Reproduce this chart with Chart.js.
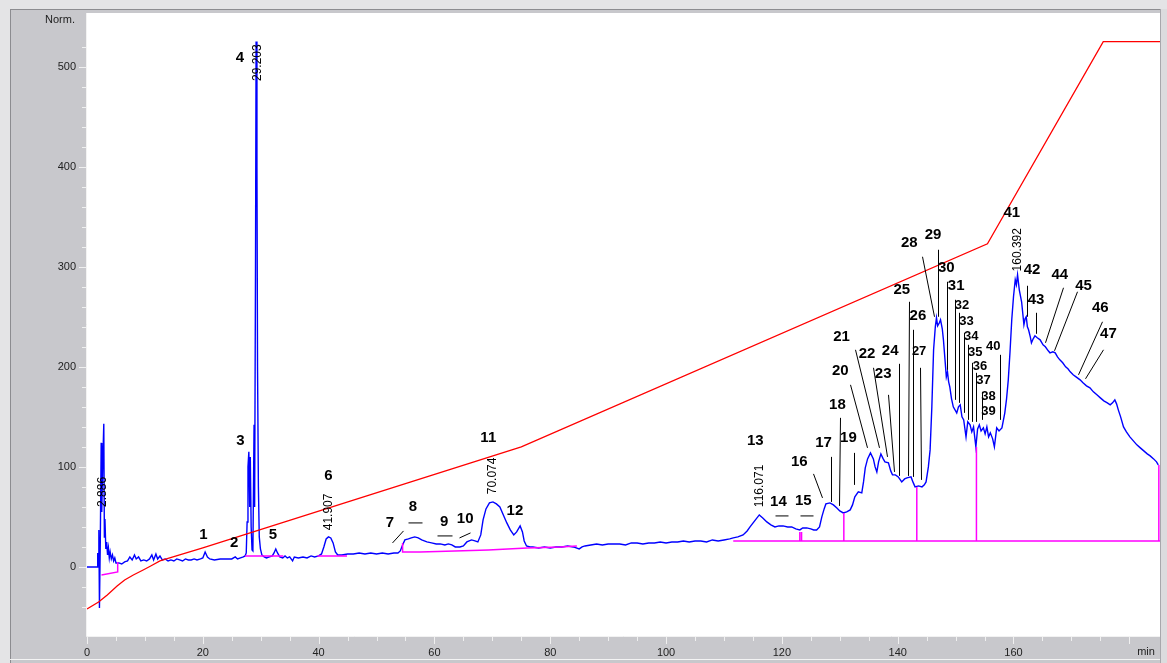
<!DOCTYPE html>
<html>
<head>
<meta charset="utf-8">
<script src="https://cdn.jsdelivr.net/npm/chart.js@4/dist/chart.umd.min.js"></script>
<style>
html, body { margin: 0; padding: 0; background: #c8c8cc; overflow: hidden; }
canvas { display: block; }
</style>
</head>
<body>
<canvas id="cromatograma" width="1167" height="663"></canvas>
<script>
// sinal do detector (tempo em min, resposta Norm.)
const sinal = [
  [0,0],[1.8,0],[1.85,14],[1.95,2],[2.05,37],[2.15,-41],[2.3,27],[2.45,124],[2.55,55],[2.7,100],[2.9,143],
  [3.0,30],[3.1,48],[3.25,18],[3.4,25],[3.55,12],[3.7,19],[3.85,9],[4.0,15],[4.2,8],[4.4,12],[4.6,6],[4.8,9],
  [5.0,4],[5.5,4],[6.0,3],[6.5,5],[7.0,6],[7.4,10],[7.8,7],[8.2,12],[8.5,8],[8.9,10],[9.3,6],[9.8,7],[10.3,6],
  [10.8,8],[11.2,12],[11.5,7],[11.9,13],[12.2,8],[12.6,11],[13.0,7],[13.5,8],[14.0,6],[14.5,7],[15.0,6],[15.5,8],
  [16.0,7],[16.5,6],[17.0,8],[17.5,7],[18.0,7],[18.5,8],[19.0,7],[19.6,8],[20.0,9],[20.4,15],[20.8,10],[21.2,8],
  [22,7],[23,8],[24,8],[25,8],[25.6,10],[26,8],[26.5,9],[27.0,10],[27.3,11],[27.5,14],[27.65,45],[27.8,100],
  [27.95,115],[28.1,60],[28.2,110],[28.35,40],[28.5,17],[28.65,16],[28.85,142],[28.95,60],[29.1,300],[29.2,525],
  [29.35,400],[29.45,200],[29.6,80],[29.75,30],[29.95,18],[30.2,12],[30.6,10],[31.0,9],[31.5,10],[32.0,11],
  [32.3,14],[32.6,18],[32.9,14],[33.3,10],[33.8,9],[34.2,11],[34.6,9],[35.0,10],[35.5,6],[35.8,10],[36.5,9],
  [37.3,10],[38,9],[38.7,11],[39.3,10],[40.0,11],[40.5,13],[40.9,20],[41.3,28],[41.7,30],[42.1,29],[42.5,24],
  [42.9,15],[43.3,12],[44,12],[45,13],[46,13],[47,14],[48,13],[49,14],[50,13],[51,14],[52,13],[53,14],[53.7,14],
  [54.1,16],[54.5,22],[54.9,27],[55.5,28],[56.0,29],[56.6,30],[57.2,29],[57.8,27],[58.7,25],[59.5,24],[60.3,23],
  [61.0,23],[61.8,22],[62.4,23],[63.0,22],[63.6,20],[64.4,20],[65.0,21],[65.6,25],[66.4,27],[67.0,26],[67.5,25],
  [68.0,32],[68.4,47],[68.9,58],[69.5,64],[70.1,65],[70.7,63],[71.3,60],[71.9,52],[72.5,44],[73.1,37],[73.7,32],
  [74.2,35],[74.8,41],[75.2,35],[75.5,26],[75.9,21],[76.5,20],[77,20],[78,19],[79,20],[80,19],[81,20],[82,20],
  [83,21],[84,20],[85,18],[85.5,20],[86,21],[87,22],[88,23],[89,22],[90,23],[91,23],[92,23],[93,22],[94,24],
  [95,24],[96,23],[97,24],[98,24],[99,25],[100,24],[101,25],[102,25],[103,26],[104,25],[105,26],[106,26],
  [107,25],[108,27],[109,26],[110,27],[111,28],[111.6,29],[112.4,30],[113.3,32],[114.0,36],[114.5,40],[115.3,46],
  [116.1,52],[116.7,49],[117.4,45],[118.1,42],[118.8,40],[119.5,41],[120.2,41],[121.0,40],[121.7,40],[122.4,38],
  [123.1,37],[123.6,39],[124.3,39],[125.0,38],[125.5,37],[126.0,37],[126.5,40],[126.9,50],[127.3,58],[127.6,63],
  [128.3,64],[128.9,62],[129.5,59],[130.0,56],[130.6,54],[131.2,55],[131.8,57],[132.2,62],[132.6,70],[133.2,75],
  [133.8,74],[134.1,85],[134.4,99],[134.8,108],[135.3,114],[135.8,108],[136.1,100],[136.4,95],[136.7,105],
  [137.1,113],[137.5,108],[137.8,105],[138.4,104],[138.8,96],[139.1,92],[139.6,92],[140.1,90],[140.7,85],
  [141.2,88],[141.6,89],[142.3,90],[142.7,84],[143.0,80],[143.6,81],[144.2,80],[144.6,82],[144.9,85],[145.3,100],
  [145.6,117],[145.9,160],[146.2,217],[146.5,240],[146.7,249],[146.9,241],[147.2,244],[147.4,247],[147.7,238],
  [147.9,227],[148.2,205],[148.4,190],[148.6,195],[148.8,185],[149.0,180],[149.3,168],[149.6,160],[149.9,157],
  [150.2,154],[150.5,160],[150.8,162],[151.1,150],[151.4,147],[151.8,130],[152.1,145],[152.5,142],[152.8,135],
  [153.1,140],[153.5,120],[153.8,138],[154.1,142],[154.4,136],[154.8,139],[155.1,133],[155.4,140],[155.7,130],
  [156.0,134],[156.4,128],[156.7,120],[157.1,139],[157.5,136],[158.0,139],[158.5,154],[158.8,168],[159.1,187],
  [159.4,215],[159.7,247],[160.0,270],[160.3,287],[160.5,282],[160.7,292],[161.0,277],[161.4,265],[161.8,242],
  [162.0,248],[162.2,250],[162.4,240],[162.6,237],[162.9,230],[163.1,224],[163.4,228],[163.7,231],[164.1,229],
  [164.6,227],[165.1,222],[165.5,220],[166.0,216],[166.3,214],[166.8,215],[167.2,214],[167.6,210],[168.0,207],
  [168.5,204],[169.0,200],[169.4,198],[169.8,195],[170.3,192],[170.8,190],[171.5,187],[172.0,184],[172.6,181],
  [173.2,179],[173.8,175],[174.4,172],[175.0,169],[175.6,166],[176.2,164],[176.7,162],[177.1,164],[177.5,167],
  [177.8,163],[178.1,157],[178.5,150],[179.0,140],[179.5,135],[180.1,130],[180.7,126],[181.3,122],[181.9,119],
  [182.5,116],[183.1,113],[183.6,111],[184.2,108],[184.7,105],[185.0,102]
];

// gradiente (linha vermelha)
const gradiente = [
  [0,-42],[2,-35],[3.5,-28],[5.2,-19],[6.5,-13],[8,-8],[9.7,-3],[11,1],[12.6,6],[14,8.5],[16,12],[20,19],
  [75,120],[155.5,323],[175.5,525],[185.3,525]
];

// linhas de base da integração (null separa os trechos)
const linhaBase = [
  [2.5,-8],[5.3,-5],[5.3,5],null,
  [27.3,11],[33.9,11],null,
  [39.8,11],[44.9,11],null,
  [54.5,24],[54.5,15],[57.5,15],[63.5,16],[69.3,17],[76,19],[81.7,20],[84.6,21],null,
  [111.6,26],[185.3,26],null,
  [123.1,26],[123.1,35],null,
  [123.4,26],[123.4,35],null,
  [130.7,26],[130.7,54],null,
  [143.3,26],[143.3,80],null,
  [153.6,26],[153.6,120],null,
  [185.1,26],[185.1,102]
];

// números dos picos: [texto, tempo, altura, pequeno?]
const picos = [
  ['1',20.1,32],['2',25.4,24],['3',26.5,126],['4',26.4,509],['5',32.1,32],['6',41.7,91],['7',52.3,44],
  ['8',56.3,60],['9',61.7,45],['10',65.3,48],['11',69.3,129],['12',73.9,56],['13',115.4,126],['14',119.4,65],
  ['15',123.7,66],['16',123.0,105],['17',127.2,124],['18',129.6,162],['19',131.5,129],['20',130.1,196],
  ['21',130.3,230],['22',134.7,213],['23',137.5,193],['24',138.7,216],['25',140.7,277],['26',143.5,251],
  ['27',143.7,215,true],['28',142.0,324],['29',146.1,332],['30',148.4,299],['31',150.1,281],['32',151.1,261,true],
  ['33',151.9,245,true],['34',152.7,230,true],['35',153.4,214,true],['36',154.2,200,true],['37',154.8,186,true],
  ['38',155.7,170,true],['39',155.7,155,true],['40',156.5,220,true],['41',159.7,354],['42',163.2,297],
  ['43',163.9,267],['44',168.0,292],['45',172.1,281],['46',175.0,259],['47',176.4,233]
];

// tempos de retenção (texto vertical)
const temposRetencao = [
  ['2.886',2.76,75],['29.203',29.53,504],['41.907',41.8,55],['70.074',70.1,91],['116.071',116.2,81],['160.392',160.7,317]
];

// traços que ligam o número ao pico: [t1, v1, t2, v2]
const marcadores = [
  [52.6,24,54.5,36],[55.4,44,57.8,44],[60.5,31,63.0,31],[64.3,29,66.1,34],
  [118.8,51,121.1,51],[123.1,51,125.4,51],[125.3,93,126.9,69],[128.4,110,128.4,65],[130.1,149,129.9,61],
  [132.5,114,132.5,82],[131.8,182,134.7,119],[132.6,217,136.7,119],[135.7,199,138.2,110],[138.4,172,139.4,95],
  [140.3,203,140.3,91],[141.9,265,141.7,91],[142.7,237,142.7,90],[143.9,199,144.0,87],[144.2,310,146.2,250],
  [146.9,317,146.9,250],[148.5,285,148.5,197],[149.9,267,149.9,167],[150.6,254,150.6,164],[151.5,234,151.5,154],
  [152.1,222,152.1,147],[152.8,204,152.8,145],[153.5,194,153.5,145],[154.5,175,154.5,147],[157.6,212,157.6,147],
  [162.3,281,162.3,250],[163.9,254,163.9,233],[168.6,279,165.5,224],[170.9,275,167.0,216],
  [175.2,245,171.2,192],[175.5,217,172.4,188]
];

const eixoX = { min: 0, max: 185.3, passo: 5, rotulo: 20 };
const eixoY = { min: -69, max: 549, passo: 20, rotulo: 100 };

const FONTE = "'Liberation Sans', Arial, sans-serif";

function paraPontos(lista) {
  return lista.map(p => p === null ? { x: null, y: null } : { x: p[0], y: p[1] });
}

const fundoPlugin = {
  id: 'fundo',
  beforeDraw(chart) {
    const ctx = chart.ctx;
    const a = chart.chartArea;
    ctx.save();
    ctx.fillStyle = '#c8c8cc';
    ctx.fillRect(0, 0, chart.width, chart.height);
    ctx.fillStyle = '#e4e4e6';
    ctx.fillRect(0, 0, chart.width, 9);
    ctx.fillRect(0, 0, 10, chart.height);
    ctx.fillStyle = '#8c8c90';
    ctx.fillRect(10, 9, chart.width - 10, 1);
    ctx.fillRect(10, 9, 1, chart.height - 9);
    ctx.fillStyle = '#f4f4f4';
    ctx.fillRect(10, chart.height - 4, chart.width - 10, 1);
    ctx.fillStyle = '#dcdcde';
    ctx.fillRect(a.right + 1, 9, chart.width - a.right - 1, chart.height - 9);
    ctx.fillStyle = '#a8a8ac';
    ctx.fillRect(a.right, 9, 1, chart.height - 9);
    ctx.fillStyle = '#ffffff';
    ctx.fillRect(a.left, 13, a.right - a.left, a.bottom - 13);
    ctx.restore();
  },
  afterDraw(chart) {
    const ctx = chart.ctx;
    const a = chart.chartArea;
    const xs = chart.scales.x, ys = chart.scales.y;
    ctx.save();
    ctx.strokeStyle = '#f2f2f2';
    ctx.lineWidth = 1;
    ctx.beginPath();
    ctx.moveTo(a.left - 0.5, 13);
    ctx.lineTo(a.left - 0.5, a.bottom + 0.5);
    ctx.lineTo(a.right, a.bottom + 0.5);
    ctx.stroke();
    ctx.strokeStyle = '#f0f0f0';
    ys.ticks.forEach(t => {
      const y = Math.round(ys.getPixelForValue(t.value)) + 0.5;
      const len = (t.value % eixoY.rotulo === 0) ? 7 : 4;
      ctx.beginPath();
      ctx.moveTo(a.left - 1, y);
      ctx.lineTo(a.left - 1 - len, y);
      ctx.stroke();
    });
    xs.ticks.forEach(t => {
      const x = Math.round(xs.getPixelForValue(t.value)) + 0.5;
      const len = (t.value % eixoX.rotulo === 0) ? 7 : 4;
      ctx.beginPath();
      ctx.moveTo(x, a.bottom + 1);
      ctx.lineTo(x, a.bottom + 1 + len);
      ctx.stroke();
    });
    ctx.fillStyle = '#222';
    ctx.font = '11px ' + FONTE;
    ctx.textAlign = 'center';
    ctx.textBaseline = 'middle';
    ctx.fillText('min', 1146, 652);
    ctx.fillText('Norm.', 60, 20);
    ctx.restore();
  }
};

const rotulosPlugin = {
  id: 'rotulos',
  afterDatasetsDraw(chart) {
    const ctx = chart.ctx;
    const xs = chart.scales.x, ys = chart.scales.y;
    ctx.save();
    ctx.strokeStyle = '#000';
    ctx.lineWidth = 1;
    marcadores.forEach(m => {
      ctx.beginPath();
      ctx.moveTo(Math.round(xs.getPixelForValue(m[0])) + 0.5, ys.getPixelForValue(m[1]));
      ctx.lineTo(Math.round(xs.getPixelForValue(m[2])) + 0.5, ys.getPixelForValue(m[3]));
      ctx.stroke();
    });
    ctx.fillStyle = '#000';
    ctx.textAlign = 'center';
    ctx.textBaseline = 'middle';
    picos.forEach(p => {
      ctx.font = (p[3] ? 'bold 13px ' : 'bold 15px ') + FONTE;
      ctx.fillText(p[0], xs.getPixelForValue(p[1]), ys.getPixelForValue(p[2]));
    });
    ctx.font = '12px ' + FONTE;
    temposRetencao.forEach(r => {
      ctx.save();
      ctx.translate(xs.getPixelForValue(r[1]), ys.getPixelForValue(r[2]));
      ctx.rotate(-Math.PI / 2);
      ctx.fillText(r[0], 0, 0);
      ctx.restore();
    });
    ctx.restore();
  }
};

new Chart(document.getElementById('cromatograma'), {
  type: 'line',
  data: {
    datasets: [
      {
        label: 'Gradiente',
        data: paraPontos(gradiente),
        borderColor: '#ff0000',
        borderWidth: 1.3,
        pointRadius: 0,
        tension: 0,
      },
      {
        label: 'Linha de base',
        data: paraPontos(linhaBase),
        borderColor: '#ff00ff',
        borderWidth: 1.5,
        pointRadius: 0,
        spanGaps: false,
        tension: 0,
      },
      {
        label: 'Sinal',
        data: paraPontos(sinal),
        borderColor: '#0000ff',
        borderWidth: 1.4,
        pointRadius: 0,
        tension: 0,
      },
    ],
  },
  options: {
    responsive: false,
    animation: false,
    devicePixelRatio: 1,
    layout: { padding: { left: 0, top: 8, right: 7, bottom: 0 } },
    plugins: {
      legend: { display: false },
      tooltip: { enabled: false },
    },
    scales: {
      x: {
        type: 'linear',
        min: eixoX.min,
        max: eixoX.max,
        border: { display: false },
        grid: { display: false, drawTicks: false },
        afterFit: s => { s.height = 27; },
        afterBuildTicks: s => { s.ticks = s.ticks.filter(t => Math.abs(t.value % eixoX.passo) < 1e-6); },
        ticks: {
          stepSize: eixoX.passo,
          autoSkip: false,
          maxRotation: 0,
          padding: 10,
          color: '#222',
          font: { family: FONTE, size: 11 },
          callback: v => (v % eixoX.rotulo === 0 && v < 180) ? String(v) : '',
        },
      },
      y: {
        type: 'linear',
        min: eixoY.min,
        max: eixoY.max,
        border: { display: false },
        grid: { display: false, drawTicks: false },
        afterFit: s => { s.width = 87; },
        afterBuildTicks: s => { s.ticks = s.ticks.filter(t => Math.abs(t.value % eixoY.passo) < 1e-6); },
        ticks: {
          stepSize: eixoY.passo,
          autoSkip: false,
          padding: 11,
          color: '#222',
          font: { family: FONTE, size: 11 },
          callback: v => (v % eixoY.rotulo === 0 && v >= 0) ? String(v) : '',
        },
      },
    },
  },
  plugins: [fundoPlugin, rotulosPlugin],
});
</script>
</body>
</html>
